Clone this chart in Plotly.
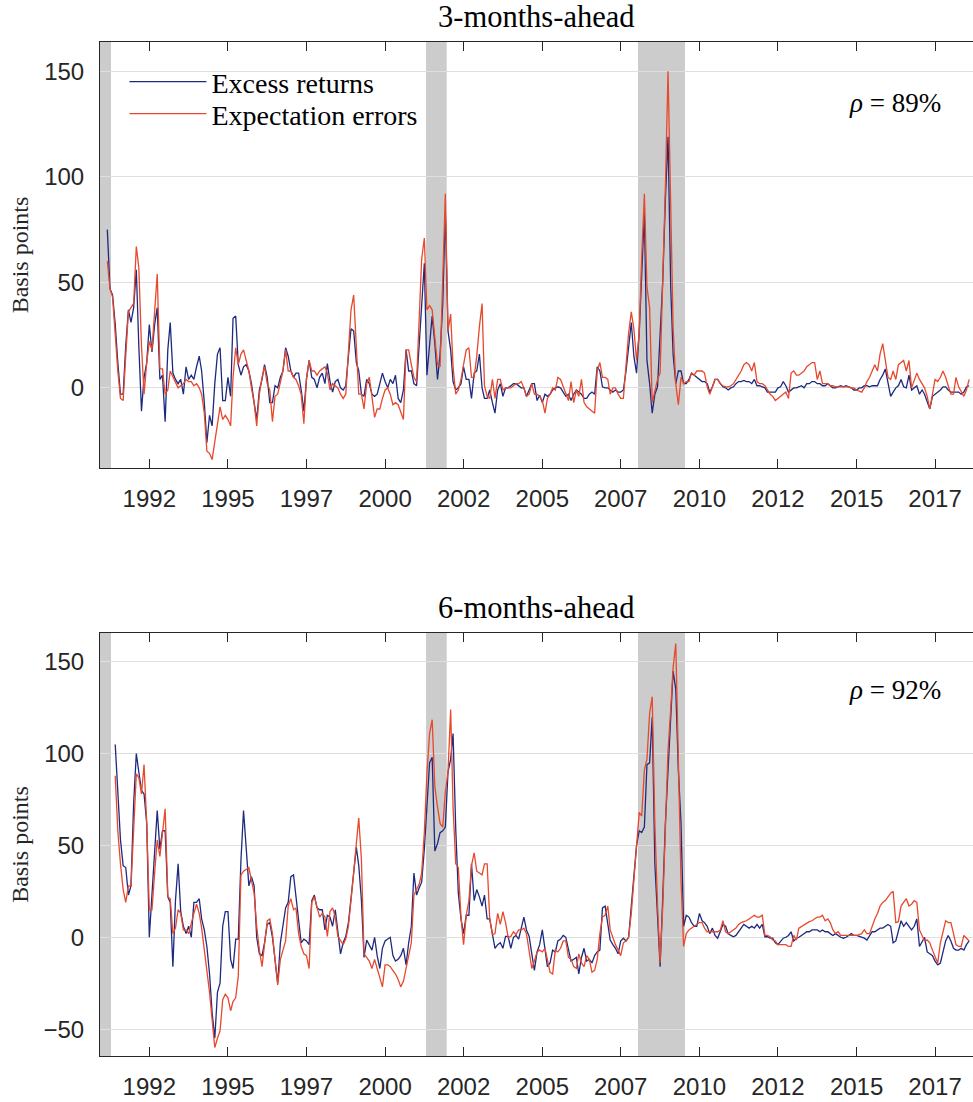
import plotly.graph_objects as go
import pandas as pd

# ---------------- data (monthly, basis points) ----------------
start_month = "1991-03-01"
n_months = 330
months = pd.date_range(start_month, periods=n_months, freq="MS")
start_6m = 3  # 6-months-ahead series start three months later

# 3-months-ahead: excess returns
excess_3m_a = [75, 47, 44, 30, 12, -3, -3, 20, 37, 31, 38, 56, 20, -11, 5, 12, 30, 17, 30, 38,
               4, 6, -16, 18, 31, 7, 4, 2, 4, -3, 10, 4, 6, 4, 10, 15, 8, -7, -26, -13, -18, 2,
               16, 19, -6, -6, 5, -4, 33, 34, 11, 6, 10, 11, 8, 2, -7, -15, -1, 4, 11, 5, -7, -7,
               1, 0, 5, 8, 19, 15, 8, 5, 7, 7, -1, -11, 4, 13, 5, 4, 0, 5]
excess_3m_b = [7, 2, 11.5, 3, -2, 3, 4, 0, -1, 1, 15, 28, 27, 12, 8, -3, -4, 4, 2, -3, -4, -3,
               2, 7, 3, 0, 4, 2, 6, -5, -7, -1, 18, 8, 8, 2, 1, 21, 42, 59, 6, 21, 34, 21, 4, 16,
               40, 84, 27, 18, 3, -1, 0, 2, 10, 4, 4, -5, 7, 8, 16, 0, -5, -5, -1, -7, -12, -1, 2,
               -4, 0, 0, 1, 2, 2, 1, 0, 0, -4, -1, 2, 2, -6]
excess_3m_c = [-3.5, -7, -3, -4, -3, -1, 0, 0.5, 0, -2, -4, -3, -6, -3, -1, -2, -3, -5, -5, -3,
               -2, -3, 10, 8, 0.5, 0, 0, -1, -2, -1, -2, -2, -1, 8, 19, 31, 15, 7, 26, 57, 83, 13,
               2, -12, -3, 0.5, 23, 51, 89, 119, 48, 16, 2, 8, 8, 2, 2, 4, 7, 6, 5, 4, 3, 3, 2,
               -2, 0.5, 4, 4, 2, 0.5, 0, -1, 0, 0.5, 2, 3, 3, 3.5, 3]
excess_3m_d = [3, 2, 4, 1, 1, 0.5, 0, -2, -2, -2, -2, 0, 0.5, 3, 1, -2, -1, 0, 0, 0.5, 1, 0, 2,
               2, 3, 3, 2, 2, 1, 1, 2, 1, 0, 0, 0.5, 1, 0.5, 1, 0.5, 0, -1, -1, 0, 0, 1, 1, 0.5,
               1, 1, 1, 4, 6, 9, 2, -4, -2, 0, 1, 4, 0.5, 0, 6, -1, 0, 1, -3, -1, -3, -7, -10,
               -4, -3, -2, -1, 0.5, 0.5, -1, -2, -2, -2, -2, -3, -2, 0.5, 1]

# 3-months-ahead: expectation errors
experr_3m_a = [60, 47, 43, 25, 8, -5, -6, 15, 36, 38, 40, 67, 57, 20, -3, 12, 22, 18, 35, 54, 9,
               9, -3, -1, 8, 5, 3, 0, 1, 2, 4, 3, 3, 1, 2, 0, -3, -12, -30, -31, -34, -25, -18,
               -9, -15, -13, -15, -18, 5, 19, 11, 16, 18, 13, 8, 0, -7, -18, -3, 5, 10, 2, -1,
               -16, -4, -3, 2, 8, 18, 8, 8, 5, 4, 1, -3, -17, 4, 13, 8, 8, 6, 8]
experr_3m_b = [9, 10, 7, -1, 2, 1, 0, -3, -5, -3, 15, 37, 44, 21, -3, -3, -10, 2, 5, -4, -14,
               -10, -10, -5, -1, 0, -3, -8, -7, -8, -11, -15, 18, 18, 11, 5, 3, 32, 61, 71, 37,
               39, 37, 24, 11, 10, 49, 92, 27, 35, 10, -3, -1, 4, 11, 18, 19, 5, 5, 15, 29, 40,
               1, -4, -5, 4, -5, 4, 4, -1, 0, 0, 0, 1, 2, 2, 3, 0, -4, -3, 2, -3, -3]
experr_3m_c = [-4, -6, -12, -5, -3, 0, -1, 5, 4, 0.5, -3, -6, 3, -7, -1, -4, 4, -7, -9, -10,
               -11, -12, 8, 12, 5, 5, 4, -3, 0, 0, -3, -5, -5, 13, 26, 36, 28, 13, 26, 62, 92,
               48, 38, -7, -1, 4, 7, 47, 95, 150, 76, 29, 2, -8, 5, 2, 3, 3, 7, 6, 8, 8, 8, 7,
               0.5, -3, 0.5, 4, 4, 2, 1, 0.5, 0.5, 1, 2, 4, 6, 8, 11, 12]
experr_3m_d = [11, 8, 12, 3, 2, 2, 1, -1, -3, -4, -6, -5, -4, -3, -2, -5, 7, 8, 6, 6, 7, 8, 10,
               11, 12, 12, 4, 8, 2, 2, 2, 1, 1, 0.5, 0.5, 0.5, 0.5, 0.5, 0.5, 0, 0, -1, -1.5,
               -2, 0, 3, 5, 8, 11, 8, 16, 21, 13, 5, 4, 8, 4, 11, 12, 13, 8, 13, 0, 4, 7, 4, 2,
               0, -4, -10, -3, 4, 3, 5, 8, 5, 1, -3, -3, 5, 0.5, -2, -4, -1, 4]

# 6-months-ahead: excess returns
excess_6m_a = [105, 79, 53, 39, 38, 23, 28, 73, 100, 90, 80, 78, 62, 0, 24, 42, 69, 48, 58, 58,
               22, 19, -16, 20, 40, 14, 6, 2, 6, 0, 19, 19, 21, 10, 4, -5, -20, -41, -55, -30,
               -25, 6, 14, 14, -12, -17, -1, -1, 42, 69, 48, 28, 33, 28, 0, -9, -10, -3, 7, 8,
               0, -12, -25, -3, 6, 16, 19, 33, 34, 23, 9, -3, -1, -2, -4, 20, 23, 16, 15]
excess_6m_b = [15, 4, 12, 11, 6, 15, 2, -9, -3, 0.5, 8, 20, 35, 49, 39, 20, -11, -1.5, -4, -7,
               0, -10, -17, -6, -2, -1, 0, -10, -13, -12, -10, -6, -15, -3, 6, 35, 23, 27, 30,
               48, 70, 95, 98, 47, 51, 57, 58, 60, 90, 97, 111, 59, 24, 10, 2, 12, 12, 40, 20,
               26, 22, 17, 23, 10, 10, 2, -6, -4, -3, -6, 0.5, 0.5, -6, 0, 1, -1, 5, 11, 4, 0.5,
               -9, -18, -8]
excess_6m_c = [-4, 4, -7, -16, -14, -7, -8, -2, -1, 1, 0, -7, -13, -12, -11, -20, -11, -6, -13,
               -12, -14, -10, -8, -7, 16, 17, 8, -1.5, -4, -6, -9, -2, -0.5, -2, 0, 18, 35, 50,
               58, 57, 60, 94, 95, 120, 40, 8, -16, 22, 62, 91, 118, 145, 135, 91, 62, 6, 12, 11,
               8, 6, 6, 13, 9, 8, 6, 2, 5, 1, -0.5, 3, 7, 6, 2, 1, 0.3, 1, 3, 5, 7, 6]
excess_6m_d = [5, 6, 5, 7, 5, 7, 0.3, 0.3, -0.5, -0.5, -3, -4, -2, -0.5, 0, 1, 3, -2, -0.5, 0,
               1, 2, 3, 3, 4, 4, 4, 3, 4, 3, 3, 2, 1, 2, 1, 0, -0.5, 0, 1, 2, 1, 1, 0.5, 0, -0.5,
               -1.5, 1, 3, 3, 4, 5, 5, 6, 7, 6, -3, -2, 3, 9, 6, 8, 6, 4, 6, 10, -5, -2, 0, -8,
               -9, -10, -13, -15, -14, -8, -2, 1, -2, -6, -7, -7, -6, -7, -4, -2]

# 6-months-ahead: expectation errors
experr_6m_a = [88, 58, 40, 26, 19, 28, 28, 62, 89, 87, 78, 94, 62, 15, 15, 35, 53, 44, 58, 70,
               22, 21, 2, 5, 15, 13, 4, 4, 2, 8, 13, 18, 13, 5, -7, -16, -30, -45, -60, -55,
               -51, -34, -31, -33, -40, -35, -33, -21, 34, 36, 37, 38, 31, 24, 6, -7, -16, -5, 9,
               10, 2, -12, -26, -12, -7, -2, 17, 21, 15, 16, 2, -5, -9, -10, -17, 19, 22, 17, 11]
experr_6m_b = [13, 11, 0.5, 14, 16, 11, 0.5, -2, -4, -1, 6, 20, 35, 53, 65, 42, -9, -11, -13,
               -17, -12, -17, -22, -27, -15, -15, -16, -18, -20, -23, -27, -24, -17, -9, -3, 23,
               26, 29, 35, 57, 89, 111, 118.5, 82, 71, 62, 60, 79, 90, 124, 71, 40, 38, 11, -4,
               12, 20, 39, 46, 36, 35, 34, 40, 40, 10, 1.5, 2, 13, 7, 14, 8, 0, 0.5, 3, 1.5, 4, 4,
               5, 2, -7, -17, -13, -8]
experr_6m_c = [-7, -8, -6, -12, -19, -20, -7, -8, -6, -2, -2, -11, -12, -16, -17, -9, -14, -16,
               -10, -12, -19, -18, -12, 2, 11, 12, 17, 4, -0.5, -4, -7, -10, -3, -2, 0, 13, 31,
               51, 68, 66, 91, 97, 122, 131, 62, 18, -14, 17, 62, 102, 124, 147, 160, 86, 31, -5,
               2, 4, 5, 6, 7, 8, 8, 5, 3, 3, 3, 3, 3, 4, 9, 3, 2, 3, 4, 5, 7, 8, 8.5, 9]
experr_6m_d = [10, 11, 12, 11, 11, 12, 1, 1, 0.3, -1.5, -2, -4, -4, -4, -4, -5, -5, 1, -1.5, 5,
               6, 7, 8, 8.5, 9, 10, 11, 11, 12, 9, 10, 8, 4, 2, 3, 1, 1, 1, 1, 1, 1, 1, 1.5, 2, 4,
               2, 2, 6, 10, 13, 17, 19, 20, 22, 24, 25, 8, 8.5, 17, 19, 21, 17, 18, 20, 19, 4,
               0.3, -2, -1.5, -3, -7, -11, -14, -3, 3, 9, 8, 8, 2, -4, -5, -5, 1, -0.5, -2]

excess_3m = excess_3m_a + excess_3m_b + excess_3m_c + excess_3m_d
experr_3m = experr_3m_a + experr_3m_b + experr_3m_c + experr_3m_d
excess_6m = excess_6m_a + excess_6m_b + excess_6m_c + excess_6m_d
experr_6m = experr_6m_a + experr_6m_b + experr_6m_c + experr_6m_d

recession_start = ["1990-07-01", "2001-04-21", "2008-01-18"]
recession_end = ["1991-04-13", "2001-12-17", "2009-07-17"]

tick_dates = ["1992-07-01", "1995-01-01", "1997-07-01", "2000-01-01", "2002-07-01", "2005-01-01",
              "2007-07-01", "2010-01-01", "2012-07-01", "2015-01-01", "2017-07-01"]
tick_labels = ["1992", "1995", "1997", "2000", "2002", "2005", "2007", "2010", "2012", "2015", "2017"]

panel_titles = ["3-months-ahead", "6-months-ahead"]
correlations = ["89%", "92%"]
series_names = ["Excess returns", "Expectation errors"]

# ---------------- styling ----------------
BLUE = "#1d2a80"
RED = "#e8482c"
SHADE = "#cccccc"
GRID = "#dfdfdf"
AXC = "#262626"
SERIF = "Liberation Serif"
SANS = "Liberation Sans"

x_range = ["1990-12-06", "2018-09-15"]
y_ranges = [[-37.97, 163.9], [-64.65, 165.7]]
y_ticks = [[0, 50, 100, 150], [-50, 0, 50, 100, 150]]
domains = [[0.57988, 1.0], [0.0, 0.41716]]

fig = go.Figure()

panels = [(months, excess_3m, experr_3m), (months[start_6m:], excess_6m, experr_6m)]
for k, (xs, ex, ee) in enumerate(panels):
    xa = "x" if k == 0 else "x2"
    ya = "y" if k == 0 else "y2"
    fig.add_trace(go.Scatter(x=xs, y=ex, mode="lines", name=series_names[0],
                             line=dict(color=BLUE, width=1.3), xaxis=xa, yaxis=ya,
                             showlegend=(k == 0), legend="legend"))
    fig.add_trace(go.Scatter(x=xs, y=ee, mode="lines", name=series_names[1],
                             line=dict(color=RED, width=1.3), xaxis=xa, yaxis=ya,
                             showlegend=(k == 0), legend="legend2"))

shapes = []
for k in range(2):
    xa = "x" if k == 0 else "x2"
    ya = "y" if k == 0 else "y2"
    for s, e in zip(recession_start, recession_end):
        shapes.append(dict(type="rect", xref=xa, yref=ya + " domain", x0=s, x1=e, y0=0, y1=1,
                           fillcolor=SHADE, line=dict(width=0), layer="below"))

annotations = []
for k in range(2):
    xa = "x" if k == 0 else "x2"
    ya = "y" if k == 0 else "y2"
    annotations.append(dict(text=panel_titles[k], xref=xa + " domain", yref=ya + " domain",
                            x=0.5, y=1, xanchor="center", yanchor="bottom", yshift=6,
                            showarrow=False, font=dict(family=SERIF, size=30.5, color="black")))
    annotations.append(dict(text="<i>ρ</i> = " + correlations[k], xref=xa + " domain",
                            yref=ya + " domain", x=0.9656, y=(0.8568 if k == 0 else 0.8652),
                            xanchor="right", yanchor="middle", showarrow=False,
                            font=dict(family=SERIF, size=27, color="black")))


def xaxis_cfg(anchor):
    return dict(domain=[0, 1], anchor=anchor, type="date", range=x_range,
                tickvals=tick_dates, ticktext=tick_labels, ticks="inside", ticklen=9,
                tickcolor=AXC, tickwidth=1, showline=True, linecolor=AXC, linewidth=1,
                mirror="ticks", showgrid=False, zeroline=False, ticklabelstandoff=9,
                tickfont=dict(family=SANS, size=24, color=AXC))


def yaxis_cfg(anchor, k):
    return dict(domain=domains[k], anchor=anchor, range=y_ranges[k], tickvals=y_ticks[k],
                ticks="", showline=True, linecolor=AXC, linewidth=1, mirror=False,
                showgrid=True, gridcolor=GRID, gridwidth=1, zeroline=False,
                ticklabelstandoff=10, tickfont=dict(family=SANS, size=24, color=AXC),
                title=dict(text="Basis points", standoff=8,
                           font=dict(family=SERIF, size=24, color=AXC)))


legend_style = dict(xanchor="left", yanchor="middle", bgcolor="rgba(0,0,0,0)", borderwidth=0,
                    font=dict(family=SERIF, size=28, color="black"), itemwidth=77)

fig.update_layout(
    width=973, height=1102,
    margin=dict(l=100, r=0, t=42, b=46),
    paper_bgcolor="white", plot_bgcolor="white",
    xaxis=xaxis_cfg("y"), yaxis=yaxis_cfg("x", 0),
    xaxis2=xaxis_cfg("y2"), yaxis2=yaxis_cfg("x2", 1),
    shapes=shapes, annotations=annotations,
    showlegend=True,
    legend=dict(x=0.028, y=0.9606, **legend_style),
    legend2=dict(x=0.028, y=0.929, **legend_style),
)

fig.write_html("out.html", config={"displayModeBar": False},
               post_script="document.body.style.margin='0';document.body.style.overflow='hidden';")
